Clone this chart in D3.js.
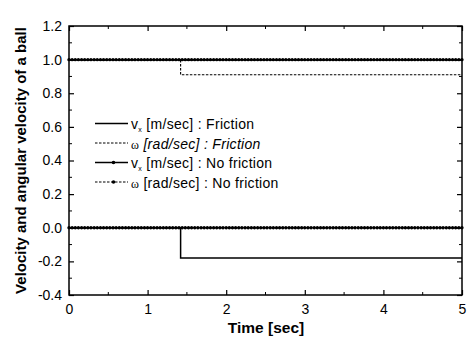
<!DOCTYPE html>
<html><head><meta charset="utf-8">
<script src="https://cdn.jsdelivr.net/npm/d3@7"></script>
<style>body{margin:0;background:#fff}svg{display:block}text{font-family:"Liberation Sans",Arial,sans-serif}</style>
</head><body>
<script>
// ---- data ----
const xTicks = [0, 1, 2, 3, 4, 5];
const yTicks = [-0.4, -0.2, 0.0, 0.2, 0.4, 0.6, 0.8, 1.0, 1.2];
const yTickLabels = ["-0.4", "-0.2", "0.0", "0.2", "0.4", "0.6", "0.8", "1.0", "1.2"];
// friction series (step data: [time, value])
const vxFriction = [[0, 1.0], [5, 1.0]];
const omegaFriction = [[0, 1.0], [1.42, 1.0], [1.42, 0.91], [5, 0.91]];
const lowerFriction = [[0, 0.0], [1.42, 0.0], [1.42, -0.18], [5, -0.18]];
// no-friction series sample times and values
const markerTimes = [0,0.08,0.16,0.24,0.32,0.40,0.48,0.56,0.64,0.72,0.80,0.88,0.96,1.04,1.12,1.20,1.28,1.36,1.44,1.52,1.60,1.68,1.76,1.84,1.92,2.00,2.08,2.16,2.24,2.32,2.40,2.48,2.56,2.64,2.72,2.80,2.88,2.96,3.04,3.12,3.20,3.28,3.36,3.44,3.52,3.60,3.68,3.76,3.84,3.92,4.00,4.08,4.16,4.24,4.32,4.40,4.48,4.56,4.64,4.72,4.80,4.88,4.96];
const vxNoFrictionValue = 1.0;
const omegaNoFrictionValue = 1.0;
const lowerNoFrictionValue = 0.0;
const legendLabels = [
  {sym: "v", sub: "x", rest: " [m/sec] : Friction", italic: false},
  {sym: "\u03c9", sub: "", rest: " [rad/sec] : Friction", italic: true},
  {sym: "v", sub: "x", rest: " [m/sec] : No friction", italic: false},
  {sym: "\u03c9", sub: "", rest: " [rad/sec] : No friction", italic: false}
];

// ---- drawing ----
const W = 472, H = 346;
const m = {l: 69, t: 26, r: 462, b: 295};
const svg = d3.select("body").append("svg").attr("width", W).attr("height", H);
const x = d3.scaleLinear().domain([0, 5]).range([m.l, m.r]);
const y = d3.scaleLinear().domain([-0.4, 1.2]).range([m.b, m.t]);

const line = d3.line().x(d => x(d[0])).y(d => y(d[1]));
const dash = "2.5,1.5";

// frame
svg.append("rect").attr("x", m.l).attr("y", m.t).attr("width", m.r - m.l).attr("height", m.b - m.t)
  .attr("fill", "none").attr("stroke", "#000").attr("stroke-width", 1.5);

// axes with inward ticks
const xMinor = [0.5, 1.5, 2.5, 3.5, 4.5];
const yMinor = [-0.3, -0.1, 0.1, 0.3, 0.5, 0.7, 0.9, 1.1];
const gx = svg.append("g").attr("transform", `translate(0,${m.b})`)
  .call(d3.axisBottom(x).tickValues(xTicks).tickSize(-5).tickPadding(9).tickFormat(d3.format("d")));
const gxt = svg.append("g").attr("transform", `translate(0,${m.t})`)
  .call(d3.axisTop(x).tickValues(xTicks).tickSize(-5).tickFormat(""));
const gy = svg.append("g").attr("transform", `translate(${m.l},0)`)
  .call(d3.axisLeft(y).tickValues(yTicks).tickSize(-5).tickPadding(7).tickFormat((d, i) => yTickLabels[i]));
const gyr = svg.append("g").attr("transform", `translate(${m.r},0)`)
  .call(d3.axisRight(y).tickValues(yTicks).tickSize(-5).tickFormat(""));
[gx, gxt, gy, gyr].forEach(g => {
  g.select(".domain").remove();
  g.selectAll("line").attr("stroke", "#000").attr("stroke-width", 1.2);
  g.selectAll("text").attr("font-size", 14).attr("fill", "#000").attr("font-family", "'Liberation Sans',Arial,sans-serif");
});
// minor ticks
[[m.b, -3], [m.t, 3]].forEach(([yy, s]) => {
  svg.append("g").selectAll("line").data(xMinor).join("line")
    .attr("x1", d => x(d)).attr("x2", d => x(d)).attr("y1", yy).attr("y2", yy + s)
    .attr("stroke", "#000").attr("stroke-width", 1);
});
[[m.l, 3], [m.r, -3]].forEach(([xx, s]) => {
  svg.append("g").selectAll("line").data(yMinor).join("line")
    .attr("y1", d => y(d)).attr("y2", d => y(d)).attr("x1", xx).attr("x2", xx + s)
    .attr("stroke", "#000").attr("stroke-width", 1);
});

// friction lines
svg.append("path").attr("d", line(vxFriction)).attr("fill", "none").attr("stroke", "#000").attr("stroke-width", 1.5);
svg.append("path").attr("d", line(omegaFriction)).attr("fill", "none").attr("stroke", "#000").attr("stroke-width", 1.1).attr("stroke-dasharray", dash);
svg.append("path").attr("d", line(lowerFriction)).attr("fill", "none").attr("stroke", "#000").attr("stroke-width", 1.5);

// no-friction lines with markers
function markerSeries(val, dashed, offset) {
  svg.append("path").attr("d", line([[0, val], [5, val]])).attr("fill", "none").attr("stroke", "#000")
    .attr("stroke-width", 1.1).attr("stroke-dasharray", dashed ? dash : null);
  svg.append("g").selectAll("circle").data(markerTimes).join("circle")
    .attr("cx", d => x(d) + offset).attr("cy", y(val)).attr("r", 1.7).attr("fill", "#000");
}
markerSeries(vxNoFrictionValue, false, 0);
markerSeries(omegaNoFrictionValue, true, 3.1);
markerSeries(lowerNoFrictionValue, false, 0);
markerSeries(lowerNoFrictionValue, true, 3.1);

// legend
const lg = svg.append("g");
const ly0 = 129, ldy = 19.5, lx1 = 95, lx2 = 128, ltx = 131;
legendLabels.forEach((L, i) => {
  const yy = ly0 + i * ldy - 5.5;
  const p = lg.append("line").attr("x1", lx1).attr("x2", lx2).attr("y1", yy).attr("y2", yy).attr("stroke", "#000");
  if (i === 0) p.attr("stroke-width", 1.6);
  if (i === 1) p.attr("stroke-width", 1).attr("stroke-dasharray", dash);
  if (i === 2) p.attr("stroke-width", 1.3);
  if (i === 3) p.attr("stroke-width", 1.1).attr("stroke-dasharray", dash);
  if (i >= 2) lg.append("circle").attr("cx", (lx1 + lx2) / 2 + 2).attr("cy", yy).attr("r", 1.8).attr("fill", "#000");
  const t = lg.append("text").attr("x", ltx).attr("y", ly0 + i * ldy).attr("font-size", 14)
    .attr("letter-spacing", 0.3).attr("fill", "#000");
  if (L.sym === "v") {
    t.append("tspan").text("v");
    t.append("tspan").attr("font-size", 7).attr("dy", 3).text(L.sub);
    t.append("tspan").attr("dy", -3).text(L.rest);
  } else {
    t.append("tspan").attr("font-family", "'Liberation Serif','Times New Roman',serif").attr("font-size", 12).text(L.sym);
    t.append("tspan").attr("font-style", L.italic ? "italic" : "normal").text(L.rest);
  }
});

// axis titles
svg.append("text").attr("x", 266).attr("y", 333).attr("text-anchor", "middle")
  .attr("font-size", 15.5).attr("font-weight", "bold").text("Time [sec]");
svg.append("text").attr("transform", `translate(26,${(m.t + m.b) / 2}) rotate(-90)`).attr("text-anchor", "middle")
  .attr("font-size", 15).attr("font-weight", "bold").text("Velocity and angular velocity of a ball");
</script>
</body></html>
